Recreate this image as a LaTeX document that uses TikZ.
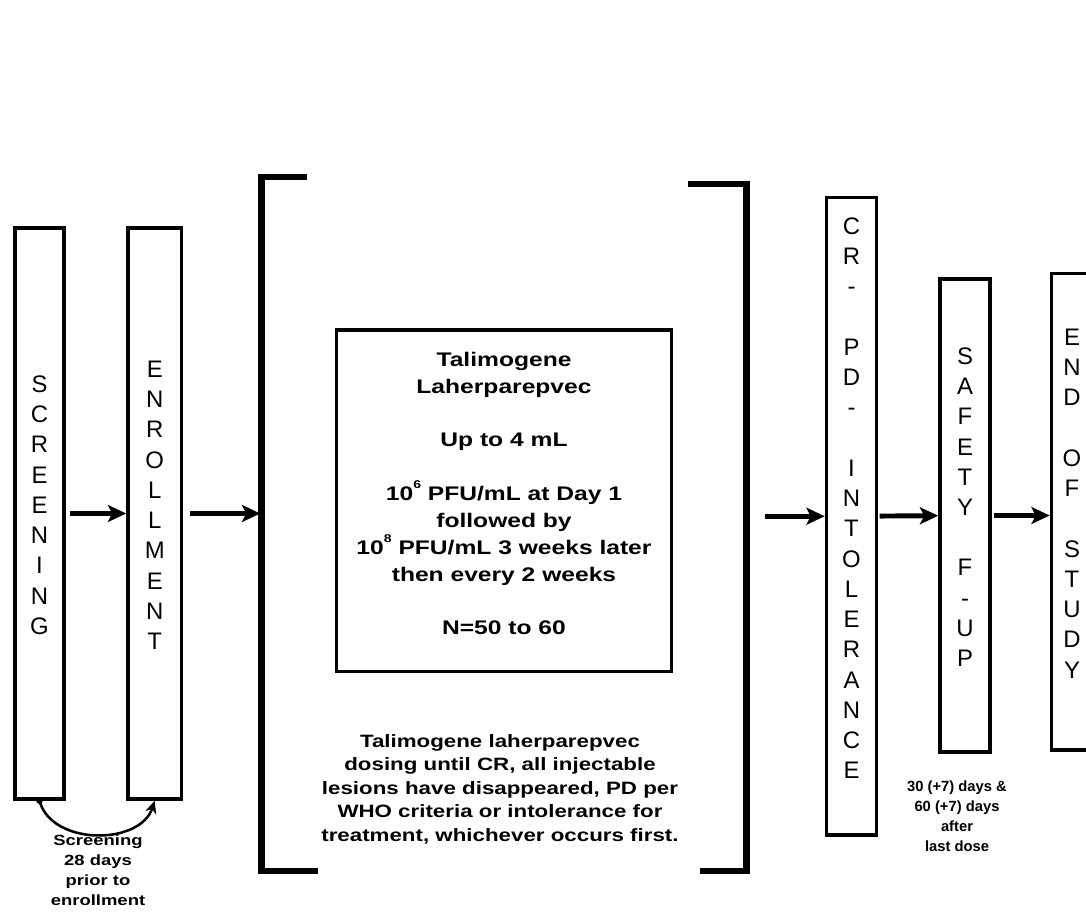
\documentclass[tikz,border=0pt]{standalone}
\usepackage{fontspec}
\setmainfont{Liberation Sans}
\newfontfamily\widesans{Liberation Sans}[FakeStretch=1.25]
\usetikzlibrary{arrows.meta,fit,calc}
\newcommand{\powsup}[1]{\raisebox{0.62em}{\fontsize{8}{8}\selectfont #1}}

\begin{document}
\begin{tikzpicture}[x=0.025cm, y=-0.025cm,
  stage/.style={draw, line width=2.5pt, inner sep=0pt},
  letters/.style={align=center, font=\fontsize{17}{21.5}\selectfont},
  flow/.style={-{Stealth[length=13pt, width=12pt, inset=3pt]}, line width=3.5pt},
  bracket/.style={line width=4.6pt},
  doseinfo/.style={align=center, font=\widesans\bfseries\fontsize{14}{19.1}\selectfont},
  rule/.style={align=center, font=\widesans\bfseries\fontsize{12.7}{16.7}\selectfont},
  note/.style={align=center, font=\bfseries\fontsize{10.5}{14.2}\selectfont},
]
  \clip (0,0) rectangle (1086,912);

  % === STAGE BOXES ===
  \node[stage, letters, fit={(15,228) (64,799)}] (scr)
    {S\\C\\R\\E\\E\\N\\I\\N\\G};
  \node[stage, letters, fit={(128,228) (181.5,799)}] (enr)
    {E\\N\\R\\O\\L\\L\\M\\E\\N\\T};
  \node[stage, fit={(826.5,197.5) (876.5,835)}] (cr) {};
  \node[letters] (crtext) at ($(cr.center)+(0,-18)$)
    {C\\R\\-\\[21.5pt]P\\D\\-\\[21.5pt]I\\N\\T\\O\\L\\E\\R\\A\\N\\C\\E};
  \node[stage, letters, fit={(940,279) (990,752)}] (saf)
    {S\\A\\F\\E\\T\\Y\\[21.5pt]F\\-\\U\\P};
  \node[stage, letters, fit={(1051.5,273.5) (1092.5,750)}] (eos)
    {E\\N\\D\\[21.5pt]O\\F\\[21.5pt]S\\T\\U\\D\\Y};

  % === TREATMENT PERIOD ===
  \node[fit={(262,177.5) (746,870.5)}, inner sep=0pt] (trt) {};
  \draw[bracket] ($(trt.north west)+(45,0)$) -| (trt.south west)
    -- ++(56,0);
  \draw[bracket] ($(trt.north east)+(-58,7)$) -| (trt.south east)
    -- ++(-46,0);

  \node[stage, doseinfo, fit={(336.5,330) (671.5,671.5)}] (dose)
    {Talimogene\\Laherparepvec\\[19.1pt]Up to 4 mL\\[19.1pt]%
     10\powsup{6} PFU/mL at Day 1\\followed by\\%
     10\powsup{8} PFU/mL 3 weeks later\\then every 2 weeks\\[19.1pt]%
     N=50 to 60};
  \node[rule] (dosing) at (500,789)
    {Talimogene laherparepvec\\dosing until CR, all injectable\\%
     lesions have disappeared, PD per\\WHO criteria or intolerance for\\%
     treatment, whichever occurs first.};

  % === FLOW ARROWS ===
  \draw[flow, shorten <=3pt] (scr) -- (enr);
  \draw[flow, shorten <=4.7pt, shorten >=1pt] (enr.east) -- (enr.east -| trt.west);
  \draw[flow, shorten <=13pt] (cr.west -| trt.east) -- (cr.west);
  \draw[flow, shorten <=1pt] (cr) -- (saf);
  \draw[flow, shorten <=1.5pt] (saf.east) -- (saf.east -| eos.west);

  % screening window
  \fill (scr.south) circle (2.3pt);
  \draw[line width=1.8pt, -{Stealth[length=9pt, width=8pt]}]
    (scr.south) .. controls +(12,45) and +(-15,45) .. (enr.south);
  \node[note, font=\widesans\bfseries\fontsize{10.5}{14.2}\selectfont] (scrnote)
    at (98,870) {Screening\\28 days\\prior to\\enrollment};
  \node[note] (funote) at (957,816)
    {30 (+7) days \&\\60 (+7) days\\after\\last dose};
\end{tikzpicture}
\end{document}
